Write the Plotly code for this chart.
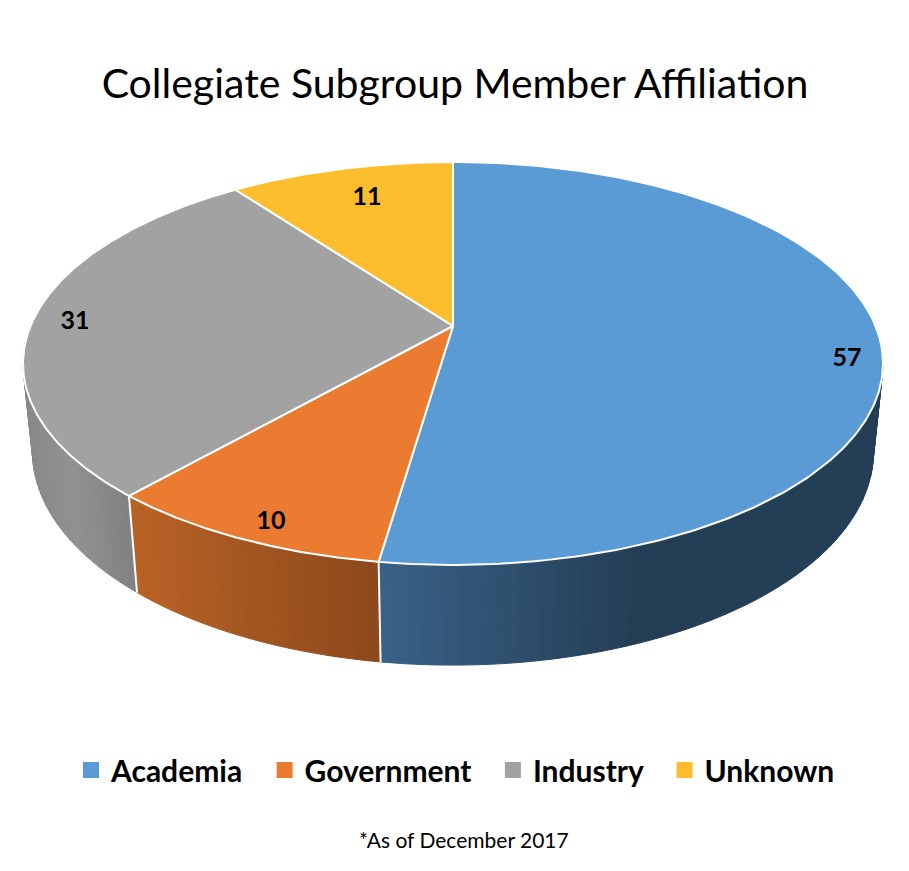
import numpy as np
import plotly.graph_objects as go

categories = ["Academia", "Government", "Industry", "Unknown"]
members = [57, 10, 31, 11]
top_colors = ["#5b9bd5", "#ea7b30", "#a2a2a2", "#fdbe2d"]
# side shading: (screen x, colour) stops for each slice
side_stops = [
    ([378, 640, 885], [(58, 98, 136), (36, 62, 85), (36, 62, 85)]),
    ([130, 380], [(186, 99, 38), (140, 73, 28)]),
    ([20, 70, 140], [(136, 136, 136), (146, 146, 146), (126, 126, 126)]),
    ([0, 909], [(120, 90, 20), (120, 90, 20)]),
]
title_text = "Collegiate Subgroup Member Affiliation"
note_text = "*As of December 2017"
FONT = "Lato"

# the page puts the figure 8px in from the window's corner
PAGE_INSET = 8
WIN_W, WIN_H = 909, 871
FIG_W, FIG_H = WIN_W - 2 * PAGE_INSET, WIN_H - 2 * PAGE_INSET

# projection of the tilted disc onto the page
CX, CY = 453.0, 326.0
RX, RY, PERSP = 422.5, 194.5, 0.186
DEPTH_Y, DEPTH_W = 89.0, 0.022


def project(theta, r=1.0, z=0.0):
    u, v = r * np.sin(theta), r * np.cos(theta)
    w = 1 + PERSP * v + DEPTH_W * z
    return CX + RX * u / w, CY - (RY * v - DEPTH_Y * z) / w


total = sum(members)
edges = np.concatenate([[0], np.cumsum(members)]) / total * 2 * np.pi
fig = go.Figure()


def add_poly(x, y, fill, line=None, width=0.0):
    fig.add_trace(go.Scatter(
        x=x, y=y, mode="lines", fill="toself", fillcolor=fill,
        line=dict(color=line or fill, width=width),
        hoverinfo="skip", showlegend=False))


# side wall, strip by strip, back to front
strips = []
for i in range(len(members)):
    a0, a1 = edges[i], edges[i + 1]
    n = max(2, int((a1 - a0) / np.radians(1.5)))
    th = np.linspace(a0, a1, n + 1)
    xs_stop, cols = side_stops[i]
    for t0, t1 in zip(th[:-1], th[1:]):
        if np.cos((t0 + t1) / 2) < 0.25:
            strips.append((np.cos((t0 + t1) / 2), t0, t1, xs_stop, cols))
strips.sort(key=lambda s: -s[0])
for _, t0, t1, xs_stop, cols in strips:
    xt0, yt0 = project(t0)
    xt1, yt1 = project(t1)
    xb0, yb0 = project(t0, z=1)
    xb1, yb1 = project(t1, z=1)
    mid = (xt0 + xt1) / 2
    rgb = [np.interp(mid, xs_stop, [c[k] for c in cols]) for k in range(3)]
    col = "rgb(%d,%d,%d)" % tuple(rgb)
    add_poly([xt0, xt1, xb1, xb0, xt0], [yt0, yt1, yb1, yb0, yt0], col, width=1.0)

# white seams on the wall where slices meet
for a in edges:
    if np.cos(a) < 0.25 and 0 < a < 2 * np.pi:
        xa, ya = project(a)
        xb, yb = project(a, z=1)
        fig.add_trace(go.Scatter(x=[xa, xb], y=[ya, yb], mode="lines",
                                 line=dict(color="white", width=2),
                                 hoverinfo="skip", showlegend=False))

# top face
for i in range(len(members)):
    th = np.linspace(edges[i], edges[i + 1], 240)
    px, py = project(th)
    x = np.concatenate([[CX], px, [CX]])
    y = np.concatenate([[CY], py, [CY]])
    add_poly(x, y, top_colors[i], line="white", width=2)

# value labels
label_pos = [(847, 360), (271, 523), (75, 323), (367, 199)]
fig.add_trace(go.Scatter(
    x=[p[0] for p in label_pos], y=[p[1] for p in label_pos],
    mode="text", text=[str(m) for m in members],
    textfont=dict(family=FONT, size=25, color="black", weight="bold"),
    textposition="middle center", hoverinfo="skip", showlegend=False))

# legend entries; trailing no-break spaces widen the gap between entries
for i, (name, col) in enumerate(zip(categories, top_colors)):
    pad = "\u00a0\u00a0\u200a" if i < len(categories) - 1 else ""
    fig.add_trace(go.Scatter(
        x=[None], y=[None], mode="markers", name=name + pad,
        marker=dict(symbol="square", size=16, color=col)))


def frac_y(py):
    return 1 - (py - PAGE_INSET) / FIG_H


fig.update_layout(
    width=FIG_W, height=FIG_H, margin=dict(l=0, r=0, t=0, b=0),
    paper_bgcolor="white", plot_bgcolor="white",
    xaxis=dict(range=[PAGE_INSET, PAGE_INSET + FIG_W], visible=False, fixedrange=True),
    yaxis=dict(range=[PAGE_INSET + FIG_H, PAGE_INSET], visible=False, fixedrange=True),
    title=dict(text=title_text, x=(455 - PAGE_INSET) / FIG_W, xanchor="center",
               y=frac_y(84), yanchor="middle",
               font=dict(family=FONT, size=41, color="black")),
    legend=dict(orientation="h", x=(71 - PAGE_INSET) / FIG_W, xanchor="left",
                y=frac_y(770), yanchor="middle",
                font=dict(family=FONT, size=30, color="black", weight="bold"),
                itemwidth=30, tracegroupgap=0),
    annotations=[dict(text=note_text, x=463.5, y=839, xref="x", yref="y", showarrow=False,
                      font=dict(family=FONT, size=21, color="black"))],
)
fig.write_html("out.html")
